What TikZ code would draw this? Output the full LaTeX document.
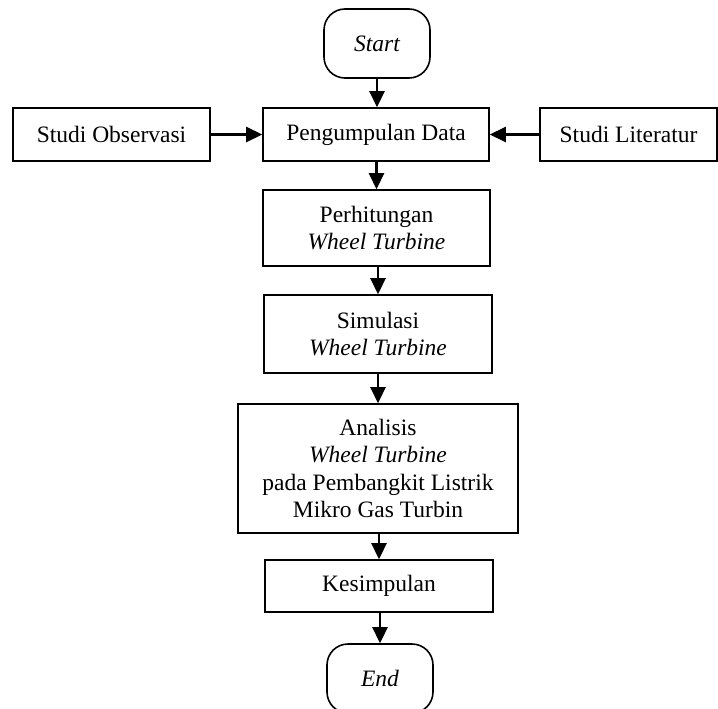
\documentclass[tikz,border=0pt]{standalone}
\usepackage{fontspec}
\setmainfont{Liberation Serif}
\usetikzlibrary{arrows.meta}
\begin{document}
\begin{tikzpicture}[x=1pt,y=1pt,
  box/.style={draw, line width=1.6pt, align=center, inner sep=0pt,
    font=\fontsize{23.5}{27.5}\selectfont},
  term/.style={box, rounded corners=21pt},
  arr/.style={line width=2.6pt, -{Triangle[length=16pt,width=15pt]}}]
\useasboundingbox (0,0) rectangle (718,-709);
\clip (0,0) rectangle (718,-709);
\node[term, minimum width=106pt, minimum height=69pt] (start) at (377,-43.5) {\itshape Start};
\node[box, minimum width=226pt, minimum height=53pt] (peng) at (376,-134.5) {Pengumpulan Data};
\node[box, minimum width=197pt, minimum height=53pt] (obs) at (111.5,-134.5) {Studi Observasi};
\node[box, minimum width=177pt, minimum height=53pt] (lit) at (628.5,-134.5) {Studi Literatur};
\node[box, minimum width=227pt, minimum height=76pt] (hit) at (376.5,-228) {Perhitungan\\\itshape Wheel Turbine};
\node[box, minimum width=228pt, minimum height=78pt] (sim) at (378,-334) {Simulasi\\\itshape Wheel Turbine};
\node[box, minimum width=280pt, minimum height=129pt] (ana) at (378,-468.5) {Analisis\\\textit{Wheel Turbine}\\pada Pembangkit Listrik\\Mikro Gas Turbin};
\node[box, minimum width=228pt, minimum height=52pt] (kes) at (379,-586) {Kesimpulan};
\node[term, minimum width=106pt, minimum height=69pt] (end) at (380,-678.5) {\itshape End};
\draw[arr] (start.south) -- (start.south |- peng.north);
\draw[arr] (obs.east) -- (peng.west);
\draw[arr] (lit.west) -- (peng.east);
\draw[arr] (peng.south -| hit.north) -- (hit.north);
\draw[arr] (hit.south -| sim.north) -- (sim.north);
\draw[arr] (sim.south -| ana.north) -- (ana.north);
\draw[arr] (ana.south -| kes.north) -- (kes.north);
\draw[arr] (kes.south -| end.north) -- (end.north);
\end{tikzpicture}
\end{document}
